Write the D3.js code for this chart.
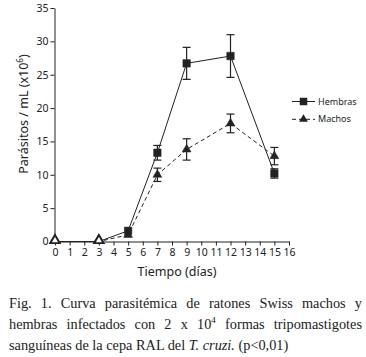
<!DOCTYPE html>
<html>
<head>
<meta charset="utf-8">
<script src="https://cdn.jsdelivr.net/npm/d3@7"></script>
<style>
  body { margin: 0; background: #fff; }
  #wrap { position: relative; width: 366px; height: 357px; overflow: hidden; }
  .axis text { font-family: "Noto Sans", sans-serif; font-size: 10.5px; fill: #222; }
  .axis path, .axis line { stroke: #222; }
  .lbl { font-family: "Noto Sans", sans-serif; font-size: 12.5px; fill: #222; }
  .legend { font-family: "Noto Sans", sans-serif; font-size: 9px; fill: #222; }
  #caption { position: absolute; left: 9px; top: 293px; width: 353px;
    font-family: "Liberation Serif", serif; font-size: 14.3px; line-height: 21px; color: #222; }
  #caption div { text-align: justify; text-align-last: justify; white-space: nowrap; }
  #caption div.last { text-align-last: left; }
</style>
</head>
<body>
<div id="wrap">
  <svg id="chart" width="366" height="290"></svg>
  <div id="caption">
    <div>Fig. 1. Curva parasitémica de ratones Swiss machos y</div>
    <div>hembras infectados con 2 x 10<sup style="font-size:9px;line-height:0">4</sup> formas tripomastigotes</div>
    <div class="last">sanguíneas de la cepa RAL del <i>T. cruzi.</i> (p&lt;0,01)</div>
  </div>
</div>
<script>
// datos
const days = [0, 3, 5, 7, 9, 12, 15];
const hembras    = [0, 0, 1.6, 13.3, 26.7, 27.8, 10.2];
const hembrasErr = [0, 0, 0, 1.1, 2.4, 3.2, 0.7];
const machos     = [0, 0, 1.0, 10.0, 13.8, 17.7, 12.8];
const machosErr  = [0, 0, 0, 1.0, 1.6, 1.4, 1.3];
const xTicks = d3.range(0, 17);
const yTicks = [0, 5, 10, 15, 20, 25, 30, 35];

const svg = d3.select("#chart");
const ink = "#222";

const x = d3.scaleLinear().domain([0, 16]).range([55, 289]);
const y = d3.scaleLinear().domain([0, 35]).range([241.5, 8]);

// ejes
svg.append("g")
  .attr("class", "axis")
  .attr("transform", "translate(0,241.5)")
  .call(d3.axisBottom(x).tickValues(xTicks).tickSize(4).tickSizeOuter(0).tickPadding(3));

svg.append("g")
  .attr("class", "axis")
  .attr("transform", "translate(54.5,0)")
  .call(d3.axisLeft(y).tickValues(yTicks).tickSize(4).tickSizeOuter(0).tickPadding(2));

// etiquetas
svg.append("text")
  .attr("class", "lbl")
  .attr("x", 177).attr("y", 276)
  .attr("text-anchor", "middle")
  .text("Tiempo (días)");

const yl = svg.append("text")
  .attr("class", "lbl")
  .attr("transform", "translate(28,114) rotate(-90)")
  .attr("text-anchor", "middle");
yl.append("tspan").text("Parásitos / mL (x10");
yl.append("tspan").attr("dy", -5).style("font-size", "8px").text("6");
yl.append("tspan").attr("dy", 5).text(")");

const series = [
  { name: "Hembras", values: hembras, err: hembrasErr, dash: null, shape: "square" },
  { name: "Machos", values: machos, err: machosErr, dash: "4,3", shape: "triangle" }
];

const line = d3.line()
  .x((d, i) => x(days[i]))
  .y(d => y(d));

const sym = {
  square: d3.symbol().type(d3.symbolSquare).size(56),
  triangle: d3.symbol().type(d3.symbolTriangle).size(34)
};
const hollow = d3.symbol().type(d3.symbolTriangle).size(38);

series.forEach(s => {
  svg.append("path")
    .datum(s.values)
    .attr("fill", "none")
    .attr("stroke", ink)
    .attr("stroke-width", 1)
    .attr("stroke-dasharray", s.dash)
    .attr("d", line);

  // barras de error
  s.values.forEach((v, i) => {
    if (!s.err[i]) return;
    const cx = x(days[i]);
    const g = svg.append("g").attr("stroke", ink).attr("stroke-width", 1.2);
    g.append("line").attr("x1", cx).attr("x2", cx).attr("y1", y(v + s.err[i])).attr("y2", y(v - s.err[i]));
    g.append("line").attr("x1", cx - 4).attr("x2", cx + 4).attr("y1", y(v + s.err[i])).attr("y2", y(v + s.err[i]));
    g.append("line").attr("x1", cx - 4).attr("x2", cx + 4).attr("y1", y(v - s.err[i])).attr("y2", y(v - s.err[i]));
  });
});

// marcadores
series.forEach(s => {
  s.values.forEach((v, i) => {
    const zero = v === 0;
    svg.append("path")
      .attr("d", zero ? hollow() : sym[s.shape]())
      .attr("transform", `translate(${x(days[i])},${y(v) - (zero ? 1 : 0)})`)
      .attr("fill", zero ? "#fff" : ink)
      .attr("stroke", ink)
      .attr("stroke-width", zero ? 1.8 : 0.5);
  });
});

// leyenda
series.forEach((s, i) => {
  const g = svg.append("g").attr("transform", `translate(292,${101.5 + i * 17.8})`);
  g.append("line").attr("x1", 0).attr("x2", 23)
    .attr("stroke", ink).attr("stroke-dasharray", s.dash);
  g.append("path").attr("d", sym[s.shape]()).attr("transform", "translate(11.5,0)").attr("fill", ink);
  g.append("text").attr("class", "legend").attr("x", 26).attr("y", 3).text(s.name);
});
</script>
</body>
</html>
